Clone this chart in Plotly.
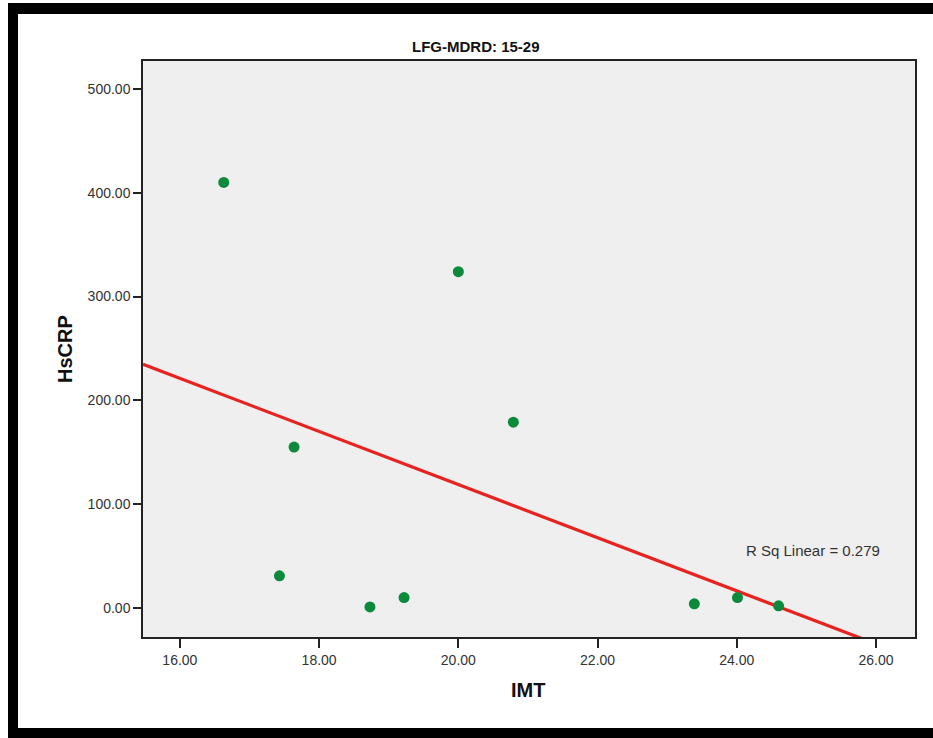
import numpy as np
import plotly.graph_objects as go

# Data
imt = [16.63, 17.43, 17.64, 18.73, 19.22, 20.00, 20.79, 23.39, 24.01, 24.60]
hscrp = [410, 31, 155, 1, 10, 324, 179, 4, 10, 2]
x_ticks = [16, 18, 20, 22, 24, 26]
y_ticks = [0, 100, 200, 300, 400, 500]
title_text = "LFG-MDRD: 15-29"
r2_text = "R Sq Linear = 0.279"

W, H = 933, 738
L, R, T, B = 143, 915, 61, 637  # plot area pixels

slope, intercept = np.polyfit(imt, hscrp, 1)
xr = [15.47, 26.56]
yr = [-28, 527]
line_x = np.array(xr)
line_y = slope * line_x + intercept

fig = go.Figure()
fig.add_trace(go.Scatter(x=line_x, y=line_y, mode="lines",
                         line=dict(color="#e8231f", width=3.2), showlegend=False,
                         hoverinfo="skip"))
fig.add_trace(go.Scatter(x=imt, y=hscrp, mode="markers",
                         marker=dict(color="#0b8a3c", size=11), showlegend=False))

def px_x(p):
    return (p - L) / (R - L)

def px_y(p):
    return (B - p) / (B - T)

frame = "#000000"
shapes = [
    dict(type="rect", xref="paper", yref="paper", x0=px_x(8), x1=px_x(934),
         y0=px_y(3), y1=px_y(14), fillcolor=frame, line_width=0, layer="above"),
    dict(type="rect", xref="paper", yref="paper", x0=px_x(8), x1=px_x(18),
         y0=px_y(3), y1=px_y(739), fillcolor=frame, line_width=0, layer="above"),
    dict(type="rect", xref="paper", yref="paper", x0=px_x(8), x1=px_x(934),
         y0=px_y(728), y1=px_y(739), fillcolor=frame, line_width=0, layer="above"),
]

font = "Liberation Sans, Arial, sans-serif"
annotations = [
    dict(text="<b>" + title_text + "</b>", xref="paper", yref="paper",
         x=px_x(476), y=px_y(47), showarrow=False, xanchor="center", yanchor="middle",
         font=dict(family=font, size=15, color="#111")),
    dict(text="<b>IMT</b>", xref="paper", yref="paper",
         x=px_x(528), y=px_y(690), showarrow=False, xanchor="center", yanchor="middle",
         font=dict(family=font, size=20, color="#111")),
    dict(text="<b>HsCRP</b>", xref="paper", yref="paper", textangle=-90,
         x=px_x(65), y=px_y(349), showarrow=False, xanchor="center", yanchor="middle",
         font=dict(family=font, size=20, color="#111")),
    dict(text=r2_text, x=25.10, y=55.6, xref="x", yref="y", showarrow=False,
         xanchor="center", yanchor="middle",
         font=dict(family=font, size=15, color="#333")),
]

fig.update_layout(
    width=W, height=H,
    margin=dict(l=L, r=W - R, t=T, b=H - B, pad=0),
    paper_bgcolor="white", plot_bgcolor="#efefef",
    shapes=shapes, annotations=annotations,
    font=dict(family=font, size=14, color="#333"),
)
fig.update_xaxes(range=xr, tickvals=x_ticks, ticktext=[f"{v:.2f}" for v in x_ticks],
                 showgrid=False, zeroline=False, showline=True, linecolor="#222",
                 linewidth=1.5, mirror=True, ticks="outside", ticklen=9, tickwidth=1.5,
                 tickcolor="#222", tickfont=dict(size=14, color="#333"))
fig.update_yaxes(range=yr, tickvals=y_ticks, ticktext=[f"{v:.2f}" for v in y_ticks],
                 showgrid=False, zeroline=False, showline=True, linecolor="#222",
                 linewidth=1.5, mirror=True, ticks="outside", ticklen=8, tickwidth=1.5,
                 tickcolor="#222", tickfont=dict(size=14, color="#333"))

fig.write_html("out.html", config={"displayModeBar": False},
               post_script="document.body.style.margin='0';")
